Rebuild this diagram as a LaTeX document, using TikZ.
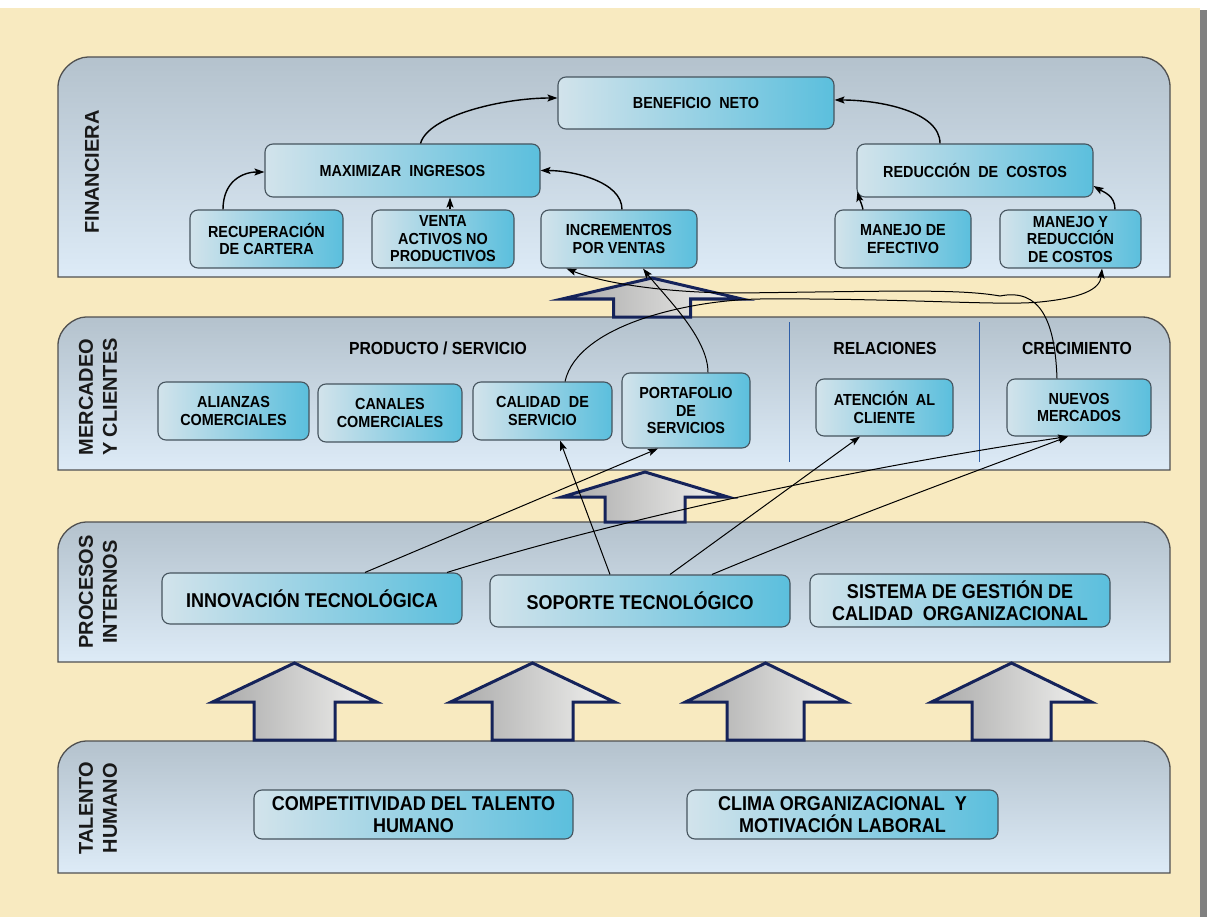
\documentclass[tikz,border=0pt]{standalone}
\usepackage{fontspec}
\setmainfont{Liberation Sans}
\newfontfamily\narrowfont[FakeStretch=0.9]{Liberation Sans}
\usetikzlibrary{arrows.meta,calc}

\definecolor{paper}{HTML}{F8EAC0}
\definecolor{edgeshadow}{HTML}{808080}
\definecolor{bandtop}{HTML}{B4C2CD}
\definecolor{bandbot}{HTML}{DDEBF7}
\definecolor{bandline}{HTML}{505050}
\definecolor{boxL}{HTML}{D2E3EB}
\definecolor{boxM}{HTML}{B0D8E7}
\definecolor{boxR}{HTML}{5BBFDD}
\definecolor{boxline}{HTML}{46545E}
\definecolor{arrowline}{HTML}{15235A}
\definecolor{arrowdark}{HTML}{A8A8A8}
\definecolor{arrowlight}{HTML}{F2F2F0}
\definecolor{divline}{HTML}{2F5FA8}

% block arrow pointing up: centre x, tip y, head base y, bottom y, head half width, shaft half width
\newcommand\upblock[6]{%
  \path[blockarrow] (#1,#2) -- ({#1+#5},#3) -- ({#1+#6},#3) -- ({#1+#6},#4)
    -- ({#1-#6},#4) -- ({#1-#6},#3) -- ({#1-#5},#3) -- cycle;}

\begin{document}
\begin{tikzpicture}[x=1pt,y=-1pt,
  band/.style={draw=bandline, line width=1.3pt, top color=bandtop, bottom color=bandbot},
  boxbase/.style={draw=boxline, line width=1.1pt, rounded corners=8pt,
    left color=boxL, middle color=boxM, right color=boxR,
    align=center, inner sep=0pt, text=black},
  fbox/.style={boxbase, font=\narrowfont\bfseries\fontsize{16}{17.5}\selectfont},
  pbox/.style={boxbase, font=\narrowfont\bfseries\fontsize{20}{22}\selectfont},
  sectitle/.style={font=\narrowfont\bfseries\fontsize{17.5}{20}\selectfont, inner sep=0pt},
  lbl/.style={rotate=90, align=center, inner sep=0pt, text=black!90,
    font=\bfseries\fontsize{20}{24}\selectfont},
  blockarrow/.style={draw=arrowline, line width=3pt, line join=miter,
    left color=arrowdark, right color=arrowlight},
  fconn/.style={draw=black, line width=1.4pt, -{Stealth[length=10pt,width=7pt,inset=2pt]}},
  conn/.style={draw=black, line width=1pt, -{Stealth[length=10pt,width=7pt,inset=2pt]}},
  divider/.style={draw=divline, line width=0.9pt}]

\useasboundingbox (0,0) rectangle (1207,917);

% page
\fill[white] (0,0) rectangle (1207,917);
\fill[paper] (0,8) rectangle (1200,917);
\fill[edgeshadow] (1200,10) rectangle (1207,917);

% layer bands (rounded on top only)
\path[band] (58,277) -- (58,87) .. controls (58,70.4) and (74.6,57) .. (88,57)
  -- (1140,57) .. controls (1156.6,57) and (1170,70.4) .. (1170,87) -- (1170,277) -- cycle;
\path[band] (58,470) -- (58,345) .. controls (58,329.5) and (73.5,317) .. (86,317)
  -- (1142,317) .. controls (1157.5,317) and (1170,329.5) .. (1170,345) -- (1170,470) -- cycle;
\path[band] (58,662) -- (58,550) .. controls (58,534.5) and (73.5,522) .. (86,522)
  -- (1142,522) .. controls (1157.5,522) and (1170,534.5) .. (1170,550) -- (1170,662) -- cycle;
\path[band] (58,873) -- (58,769) .. controls (58,753.5) and (73.5,741) .. (86,741)
  -- (1142,741) .. controls (1157.5,741) and (1170,753.5) .. (1170,769) -- (1170,873) -- cycle;

% layer names
\node[lbl] (lfin) at (92,172) {FINANCIERA};
\node[lbl] (lmer) at (98,397) {MERCADEO\\Y CLIENTES};
\node[lbl] (lpro) at (98,592) {PROCESOS\\INTERNOS};
\node[lbl] (ltal) at (98,808) {TALENTO\\HUMANO};

% block arrows between layers
\upblock{652}{278}{299}{317}{90}{38.5}
\upblock{645}{472}{497}{522}{83}{40}
\upblock{294.5}{663}{702}{740}{82}{40.5}
\upblock{532.5}{663}{702}{740}{82}{40.5}
\upblock{765.5}{663}{702}{740}{80}{38.5}
\upblock{1011.5}{663}{702}{740}{80}{39.5}

% financial objectives
\node[fbox, minimum width=276pt, minimum height=52pt] (ben) at (696,103) {BENEFICIO\ \ NETO};
\node[fbox, minimum width=275pt, minimum height=53pt] (max) at (402.5,170.5) {MAXIMIZAR\ \ INGRESOS};
\node[fbox, minimum width=236pt, minimum height=53pt] (red) at (975,170.5) {REDUCCIÓN\ \ DE\ \ COSTOS};
\node[fbox, minimum width=153pt, minimum height=58pt] (rec) at (266.5,239) {RECUPERACIÓN\\DE CARTERA};
\node[fbox, minimum width=142pt, minimum height=58pt] (ven) at (443,239) {VENTA\\ACTIVOS NO\\PRODUCTIVOS};
\node[fbox, minimum width=156pt, minimum height=58pt] (inc) at (619,239) {INCREMENTOS\\POR VENTAS};
\node[fbox, minimum width=136pt, minimum height=58pt] (mef) at (903,239) {MANEJO DE\\EFECTIVO};
\node[fbox, minimum width=141pt, minimum height=58pt] (mrc) at (1070.5,239) {MANEJO Y\\REDUCCIÓN\\DE COSTOS};

% market and customer objectives
\node[sectitle] (tprod) at (438,348) {PRODUCTO / SERVICIO};
\node[sectitle] (trel) at (885,348) {RELACIONES};
\node[sectitle] (tcre) at (1077,348) {CRECIMIENTO};
\draw[divider] (789,322) -- (789,462);
\draw[divider] (979,322) -- (979,462);

\node[fbox, minimum width=151pt, minimum height=58pt] (ali) at (233.5,411) {ALIANZAS\\COMERCIALES};
\node[fbox, minimum width=144pt, minimum height=58pt] (can) at (390,413) {CANALES\\COMERCIALES};
\node[fbox, minimum width=139pt, minimum height=58pt] (cal) at (542.5,411) {CALIDAD\ \ DE\\SERVICIO};
\node[fbox, minimum width=128pt, minimum height=75pt] (por) at (686,410.5) {PORTAFOLIO\\DE\\SERVICIOS};
\node[fbox, minimum width=137pt, minimum height=57pt] (ate) at (884.5,407.5) {ATENCIÓN\ \ AL\\CLIENTE};
\node[fbox, minimum width=144pt, minimum height=57pt] (nue) at (1079,407.5) {NUEVOS\\MERCADOS};

% internal processes
\node[pbox, minimum width=300pt, minimum height=51pt] (inn) at (312,598.5) {INNOVACIÓN TECNOLÓGICA};
\node[pbox, minimum width=300pt, minimum height=52pt] (sop) at (640,601) {SOPORTE TECNOLÓGICO};
\node[pbox, minimum width=300pt, minimum height=53pt] (sis) at (960,600.5) {SISTEMA DE GESTIÓN DE\\CALIDAD\ \ ORGANIZACIONAL};

% human talent
\node[pbox, minimum width=319pt, minimum height=49pt] (com) at (413.5,814.5) {COMPETITIVIDAD DEL TALENTO\\HUMANO};
\node[pbox, minimum width=311pt, minimum height=49pt] (cli) at (842.5,814.5) {CLIMA ORGANIZACIONAL\ \ Y\\MOTIVACIÓN LABORAL};

% links inside the financial layer
\draw[fconn] ([xshift=18pt]max.north) .. controls +(8,-28) and +(-55,0) .. ([yshift=5pt]ben.west);
\draw[fconn] ([xshift=-35pt]red.north) .. controls +(0,-32) and +(45,0) .. ([yshift=3pt]ben.east);
\draw[fconn] ([xshift=-43.5pt]rec.north) .. controls +(0,-28) and +(-22,0) .. ([yshift=-1.5pt]max.west);
\draw[fconn] ([xshift=7pt]ven.north) -- ([xshift=7pt]ven.north |- max.south);
\draw[fconn] ([xshift=3pt]inc.north) .. controls +(0,-28) and +(32,0) .. (max.east);
\draw[fconn] ([xshift=-40pt]mef.north) .. controls +(-2,-8) and +(2,8) .. ([xshift=1pt,yshift=6pt]red.south west);
\draw[fconn] ([xshift=44.5pt]mrc.north) .. controls +(0,-14) and +(10,6) .. ([yshift=-15.5pt]red.east);

% links from market objectives to financial objectives
\draw[conn] ([xshift=22pt]por.north) .. controls +(0,-35) and +(22,28) .. ([xshift=24pt]inc.south);
\draw[conn] ([xshift=22.5pt]cal.north) .. controls +(13,-57) and +(-70,1) .. (760,299)
  .. controls (900,298) and (1000,306) .. (1040,302)
  .. controls (1080,298) and (1100,290) .. ([xshift=31.5pt]mrc.south);
\draw[conn] ([xshift=-22pt]nue.north) .. controls +(-2,-58) and +(40,-8) .. (1000,296)
  .. controls (960,289) and (900,291) .. (740,293)
  .. controls (660,293) and (600,282) .. ([xshift=26pt]inc.south west);

% links from internal processes to market objectives
\draw[conn] ([xshift=53pt]inn.north) -- ([xshift=-28pt]por.south);
\draw[conn] ([xshift=135pt]inn.north) .. controls +(200,-62) and +(-170,25) .. ([xshift=-11pt]nue.south);
\draw[conn] ([xshift=-30pt]sop.north) -- ([xshift=17.5pt]cal.south);
\draw[conn] ([xshift=30pt]sop.north) -- ([xshift=-24.5pt]ate.south);
\draw[conn] ([xshift=72pt]sop.north) .. controls +(120,-50) and +(-120,45) .. ([xshift=-11pt]nue.south);

\end{tikzpicture}
\end{document}
